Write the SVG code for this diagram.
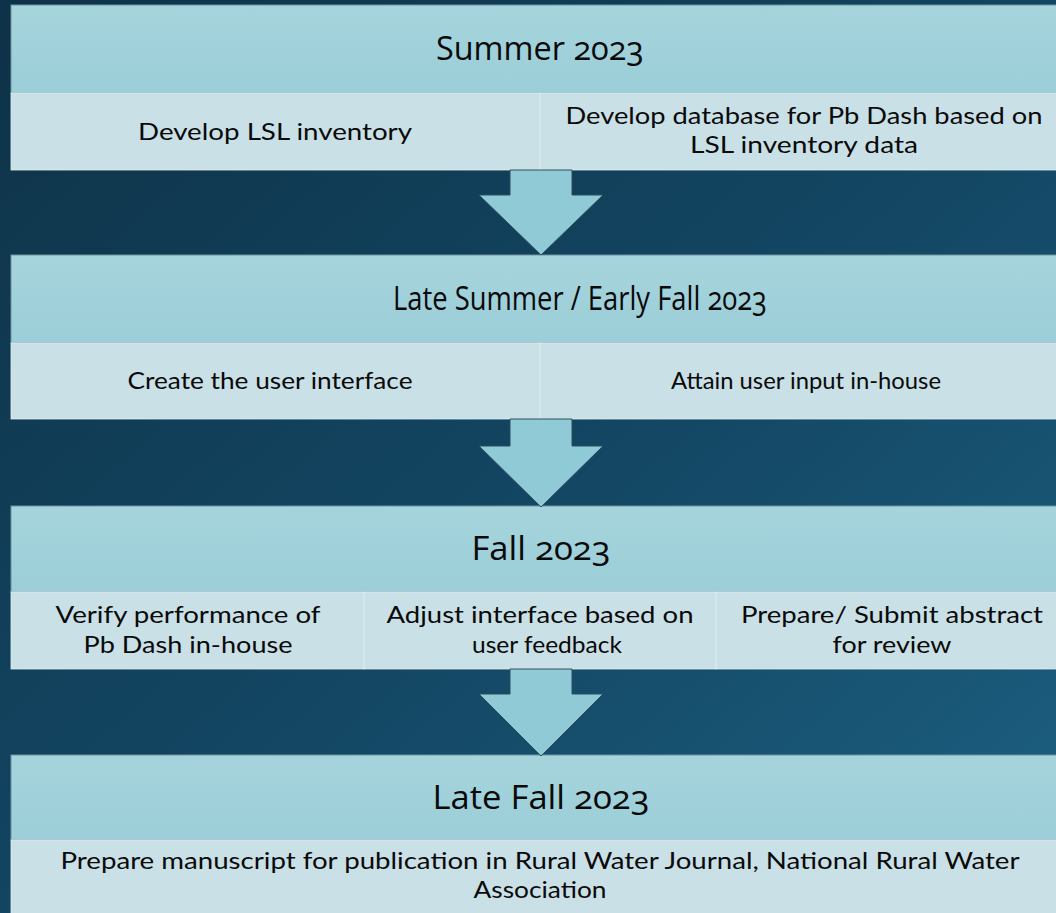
<svg xmlns="http://www.w3.org/2000/svg" width="1056" height="913" viewBox="0 0 1056 913">
  <defs>
    <linearGradient id="bg" x1="0" y1="0" x2="1" y2="1">
      <stop offset="0" stop-color="#0e3247"/>
      <stop offset="0.55" stop-color="#134764"/>
      <stop offset="1" stop-color="#1d6082"/>
    </linearGradient>
    <linearGradient id="head" x1="0" y1="0" x2="0" y2="1">
      <stop offset="0" stop-color="#a6d4dc"/>
      <stop offset="1" stop-color="#9bced8"/>
    </linearGradient>
    <style>
      .head { fill: url(#head); stroke: #6f949c; stroke-width: 1; }
      .cell { fill: #c9e0e6; stroke: #e2eef1; stroke-width: 0.8; }
      .title { font-family: "Open Sans", "Noto Sans", sans-serif; font-size: 32px; fill: #0a0a0a; text-anchor: middle; font-variant-numeric: oldstyle-nums; }
      .txt { font-family: Lato, "Open Sans", sans-serif; font-size: 24px; fill: #0a0a0a; text-anchor: middle; }
      .arrow { fill: #8fcad6; stroke: #2b4f5a; stroke-width: 1; stroke-linejoin: miter; }
    </style>
  </defs>

  <rect width="1056" height="913" fill="url(#bg)"/>

  <!-- Summer 2023 -->
  <g id="summer-2023">
    <rect class="head" x="11" y="5" width="1058" height="88"/>
    <text class="title" x="540" y="60" textLength="208" lengthAdjust="spacingAndGlyphs">Summer 2023</text>
  </g>
  <g id="develop-inventory">
    <rect class="cell" x="11" y="93" width="529" height="77"/>
    <text class="txt" x="275" y="140" textLength="274" lengthAdjust="spacingAndGlyphs">Develop LSL inventory</text>
  </g>
  <g id="develop-database">
    <rect class="cell" x="540" y="93" width="529" height="77"/>
    <text class="txt" x="804" y="124" textLength="477" lengthAdjust="spacingAndGlyphs">Develop database for Pb Dash based on</text>
    <text class="txt" x="804" y="153" textLength="228" lengthAdjust="spacingAndGlyphs">LSL inventory data</text>
  </g>

  <!-- Late Summer / Early Fall 2023 -->
  <g id="late-summer-2023">
    <rect class="head" x="11" y="255" width="1058" height="88"/>
    <text class="title" x="580" y="310" textLength="374" lengthAdjust="spacingAndGlyphs">Late Summer / Early Fall 2023</text>
  </g>
  <g id="create-interface">
    <rect class="cell" x="11" y="343" width="529" height="76"/>
    <text class="txt" x="270" y="389" textLength="285" lengthAdjust="spacingAndGlyphs">Create the user interface</text>
  </g>
  <g id="attain-input">
    <rect class="cell" x="540" y="343" width="529" height="76"/>
    <text class="txt" x="806" y="389" textLength="270" lengthAdjust="spacingAndGlyphs">Attain user input in-house</text>
  </g>

  <!-- Fall 2023 -->
  <g id="fall-2023">
    <rect class="head" x="11" y="506" width="1058" height="86"/>
    <text class="title" x="541" y="560" textLength="139" lengthAdjust="spacingAndGlyphs">Fall 2023</text>
  </g>
  <g id="verify-performance">
    <rect class="cell" x="11" y="592" width="353" height="77"/>
    <text class="txt" x="188" y="623" textLength="265" lengthAdjust="spacingAndGlyphs">Verify performance of</text>
    <text class="txt" x="188" y="653" textLength="209" lengthAdjust="spacingAndGlyphs">Pb Dash in-house</text>
  </g>
  <g id="adjust-interface">
    <rect class="cell" x="364" y="592" width="352" height="77"/>
    <text class="txt" x="540" y="623" textLength="307" lengthAdjust="spacingAndGlyphs">Adjust interface based on</text>
    <text class="txt" x="547" y="653" textLength="150" lengthAdjust="spacingAndGlyphs">user feedback</text>
  </g>
  <g id="submit-abstract">
    <rect class="cell" x="716" y="592" width="353" height="77"/>
    <text class="txt" x="892" y="623" textLength="302" lengthAdjust="spacingAndGlyphs">Prepare/ Submit abstract</text>
    <text class="txt" x="892" y="653" textLength="119" lengthAdjust="spacingAndGlyphs">for review</text>
  </g>

  <!-- Late Fall 2023 -->
  <g id="late-fall-2023">
    <rect class="head" x="11" y="755" width="1058" height="85"/>
    <text class="title" x="541" y="809" textLength="217" lengthAdjust="spacingAndGlyphs">Late Fall 2023</text>
  </g>
  <g id="prepare-manuscript">
    <rect class="cell" x="11" y="840" width="1058" height="80"/>
    <text class="txt" x="540" y="869" textLength="959" lengthAdjust="spacingAndGlyphs">Prepare manuscript for publication in Rural Water Journal, National Rural Water</text>
    <text class="txt" x="540" y="898" textLength="133" lengthAdjust="spacingAndGlyphs">Association</text>
  </g>

  <!-- block arrows between stages -->
  <g id="connectors">
    <path class="arrow" d="M510,170 H572 V195 H603 L541,255 L479,195 H510 Z"/>
    <path class="arrow" d="M510,419 H572 V446 H603 L541,507 L479,446 H510 Z"/>
    <path class="arrow" d="M510,669 H572 V694 H603 L541,756 L479,694 H510 Z"/>
  </g>
</svg>
